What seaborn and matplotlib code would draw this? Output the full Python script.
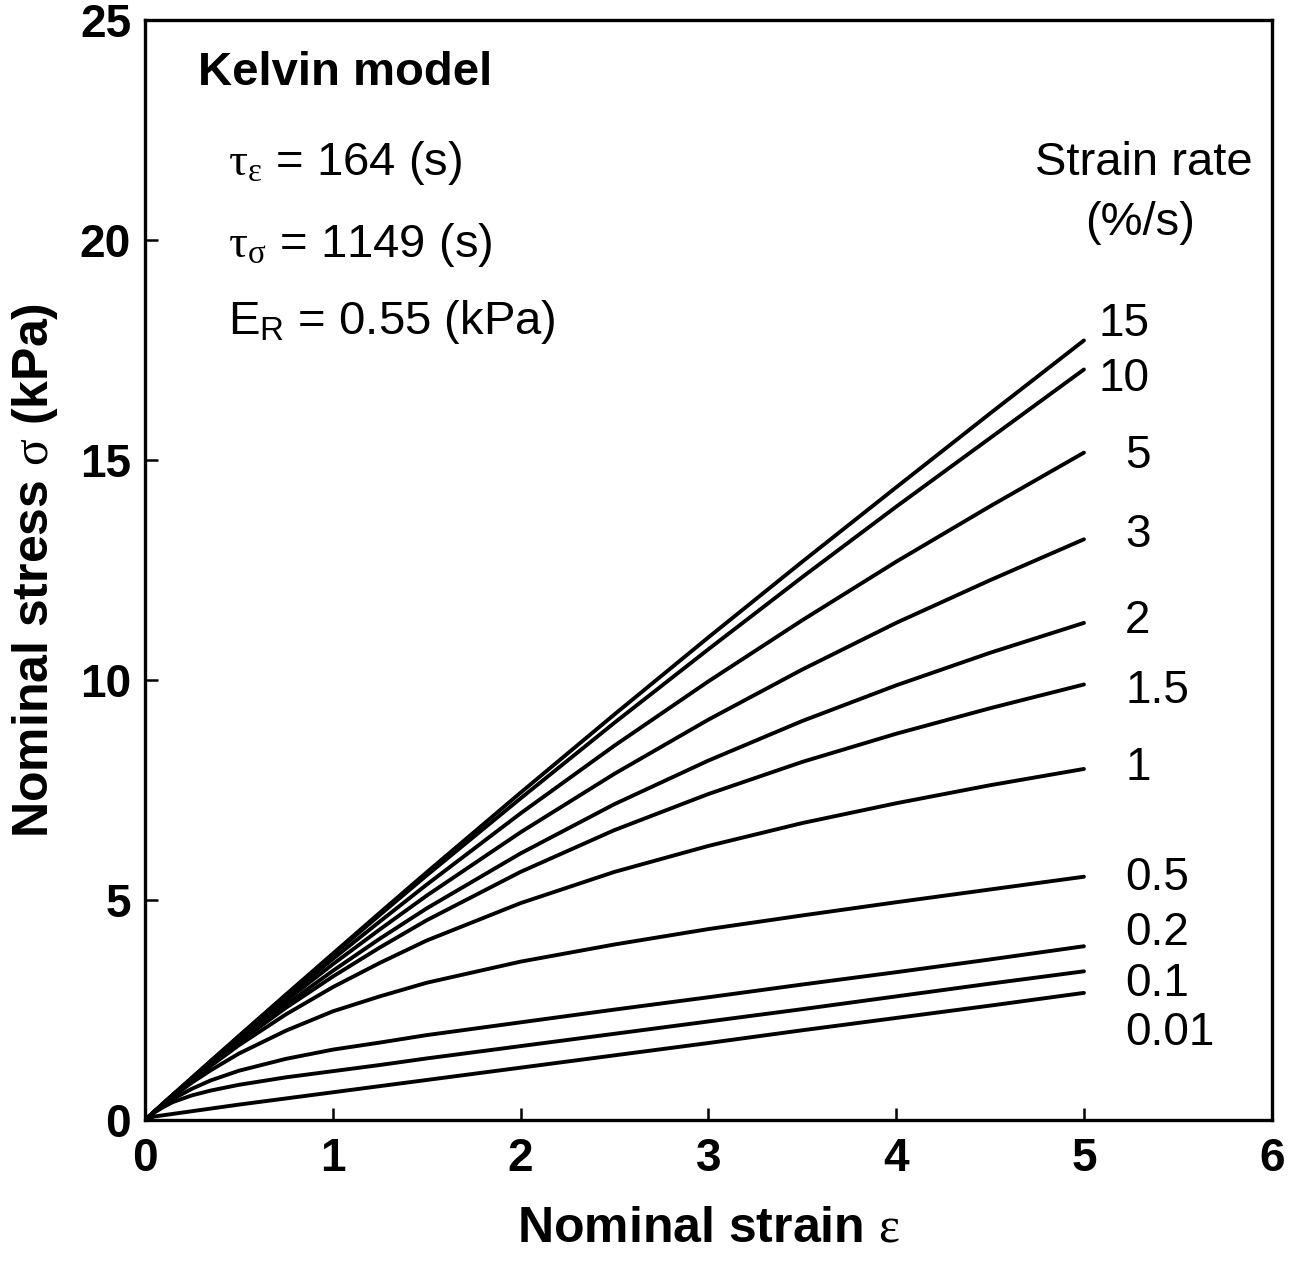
import matplotlib
matplotlib.use("Agg")
import matplotlib.pyplot as plt
import numpy as np
import pandas as pd
import seaborn as sns

# ---- data ----
strain = [0, 0.05, 0.1, 0.15, 0.25, 0.35, 0.5, 0.75, 1, 1.25, 1.5, 2, 2.5, 3, 3.5, 4, 4.5, 5]
rate_labels = ["15", "10", "5", "3", "2", "1.5", "1", "0.5", "0.2", "0.1", "0.01"]
s15 = [0, 0.19, 0.39, 0.58, 0.96, 1.34, 1.91, 2.85, 3.78, 4.71, 5.63, 7.44, 9.22, 10.97, 12.69, 14.38, 16.06, 17.72]
s10 = [0, 0.19, 0.39, 0.58, 0.96, 1.34, 1.90, 2.83, 3.75, 4.66, 5.56, 7.31, 9.03, 10.70, 12.34, 13.94, 15.50, 17.06]
s5 = [0, 0.19, 0.38, 0.57, 0.95, 1.32, 1.88, 2.78, 3.66, 4.51, 5.35, 6.97, 8.51, 9.97, 11.36, 12.69, 13.95, 15.17]
s3 = [0, 0.19, 0.38, 0.57, 0.94, 1.31, 1.84, 2.71, 3.54, 4.33, 5.10, 6.54, 7.87, 9.10, 10.24, 11.30, 12.27, 13.20]
s2 = [0, 0.19, 0.38, 0.57, 0.93, 1.29, 1.81, 2.62, 3.39, 4.12, 4.81, 6.06, 7.18, 8.17, 9.07, 9.88, 10.62, 11.30]
s1_5 = [0, 0.19, 0.38, 0.56, 0.92, 1.27, 1.77, 2.55, 3.26, 3.92, 4.54, 5.64, 6.59, 7.41, 8.14, 8.78, 9.36, 9.90]
s1 = [0, 0.19, 0.38, 0.555, 0.90, 1.23, 1.70, 2.40, 3.02, 3.57, 4.08, 4.93, 5.64, 6.23, 6.75, 7.20, 7.61, 7.98]
s0_5 = [0, 0.19, 0.37, 0.535, 0.85, 1.13, 1.51, 2.03, 2.47, 2.81, 3.12, 3.60, 3.99, 4.34, 4.65, 4.95, 5.24, 5.53]
s0_2 = [0, 0.18, 0.34, 0.48, 0.71, 0.90, 1.12, 1.39, 1.60, 1.76, 1.93, 2.22, 2.51, 2.79, 3.08, 3.36, 3.65, 3.95]
s0_1 = [0, 0.17, 0.30, 0.41, 0.56, 0.67, 0.80, 0.97, 1.11, 1.25, 1.40, 1.68, 1.96, 2.24, 2.52, 2.81, 3.10, 3.38]
s0_01 = [0, 0.08, 0.11, 0.14, 0.20, 0.26, 0.35, 0.49, 0.63, 0.77, 0.91, 1.19, 1.47, 1.75, 2.04, 2.32, 2.60, 2.89]
series = [s15, s10, s5, s3, s2, s1_5, s1, s0_5, s0_2, s0_1, s0_01]

# label anchor positions (data coords) for curve labels
label_x = [5.08, 5.08, 5.22, 5.22, 5.22, 5.22, 5.22, 5.22, 5.22, 5.22, 5.22]
label_y = [18.1, 16.85, 15.1, 13.3, 11.35, 9.75, 8.0, 5.5, 4.25, 3.1, 1.98]

x_ticks = [0, 1, 2, 3, 4, 5, 6]
y_ticks = [0, 5, 10, 15, 20, 25]

# ---- build long table ----
rows = []
for lab, vals in zip(rate_labels, series):
    for x, y in zip(strain, vals):
        rows.append({"rate": lab, "strain": x, "stress": y})
df = pd.DataFrame(rows)

sns.set_theme(style="ticks")
plt.rcParams["font.family"] = ["Liberation Sans", "DejaVu Sans"]
plt.rcParams["mathtext.fontset"] = "custom"
plt.rcParams["mathtext.rm"] = "Liberation Serif"
plt.rcParams["mathtext.sf"] = "Liberation Sans"
plt.rcParams["mathtext.it"] = "Liberation Serif:italic"
plt.rcParams["mathtext.bf"] = "Liberation Sans:bold"
for k in ["text.color", "axes.labelcolor", "xtick.color", "ytick.color", "axes.edgecolor"]:
    plt.rcParams[k] = "black"

fig = plt.figure(figsize=(12.99, 12.61), dpi=100)
ax = fig.add_axes([0.1116, 0.1118, 0.979 - 0.1116, 0.984 - 0.1118])

sns.lineplot(data=df, x="strain", y="stress", hue="rate", hue_order=rate_labels,
             palette=["black"] * len(rate_labels), legend=False, linewidth=2.8,
             ax=ax, estimator=None, sort=False)

ax.set_xlim(0, 6)
ax.set_ylim(0, 25)
ax.set_xticks(x_ticks)
ax.set_yticks(y_ticks)
ax.tick_params(axis="both", direction="in", length=9, width=1.8,
               labelsize=33, top=False, right=False, colors="black")
ax.tick_params(axis="x", pad=12)
ax.tick_params(axis="y", pad=10)
for lbl in ax.get_xticklabels() + ax.get_yticklabels():
    lbl.set_fontweight("bold")
for sp in ax.spines.values():
    sp.set_linewidth(2.4)
    sp.set_color("black")
    sp.set_visible(True)

ax.set_xlabel(r"Nominal strain $\mathrm{ε}$", fontsize=36, fontweight="bold", labelpad=18)
ax.set_ylabel(r"Nominal stress $\mathrm{σ}$ (kPa)", fontsize=36, fontweight="bold", labelpad=14)

# curve labels
for lab, lx, ly in zip(rate_labels, label_x, label_y):
    ax.text(lx, ly, lab, fontsize=33, ha="left", va="center")

ax.text(5.9, 21.75, "Strain rate", fontsize=34, ha="right", va="center")
ax.text(5.3, 20.4, "(%/s)", fontsize=34, ha="center", va="center")

ax.text(0.28, 23.8, "Kelvin model", fontsize=34, fontweight="bold", ha="left", va="center")
ax.text(0.44, 21.75, r"$\mathrm{τ_{ε}}$ = 164 (s)", fontsize=34, ha="left", va="center")
ax.text(0.44, 19.9, r"$\mathrm{τ_{σ}}$ = 1149 (s)", fontsize=34, ha="left", va="center")
ax.text(0.44, 18.15, r"E$_\mathsf{R}$ = 0.55 (kPa)", fontsize=34, ha="left", va="center")

fig.savefig("out.png", dpi=100, facecolor="white")
